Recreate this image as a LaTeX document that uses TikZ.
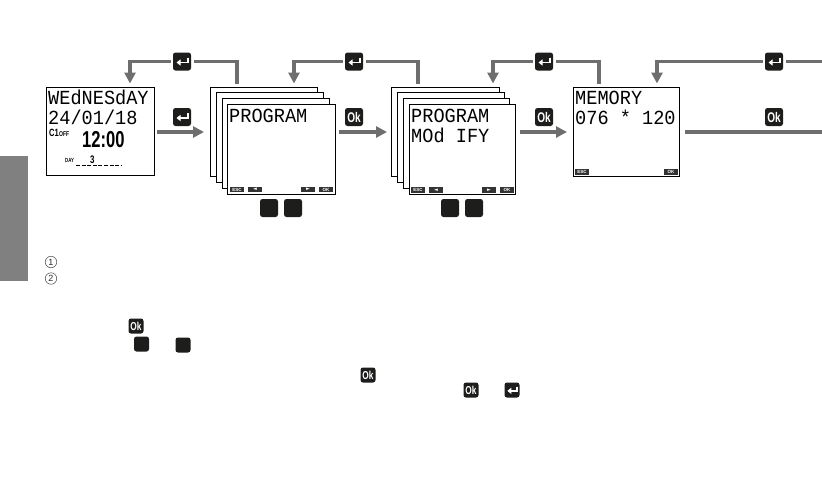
\documentclass[tikz,border=0pt]{standalone}
\usepackage{fontspec}
\usetikzlibrary{arrows.meta}
\setmainfont{Liberation Sans}
\newfontfamily\lcdfont[FakeStretch=0.93]{Liberation Mono}
\newfontfamily\narrowfont[FakeStretch=0.72]{Liberation Sans}
\newfontfamily\symfont{DejaVu Sans}
\definecolor{flowgray}{HTML}{6E6E6E}
\definecolor{tabgray}{HTML}{808080}
\definecolor{keyblack}{HTML}{1D1D1B}
\tikzset{
  flow/.style={draw=flowgray,line width=3.4pt},
  flowarrow/.style={flow,-{Triangle[width=11pt,length=11pt]}},
  keybtn/.style={fill=keyblack,rounded corners=2.5pt,minimum size=18pt,inner sep=0pt,outer sep=2.5pt,text=white,font=\narrowfont\bfseries\fontsize{14}{14}\selectfont},
  smallkey/.style={keybtn,minimum size=15pt,outer sep=0pt,font=\narrowfont\bfseries\fontsize{11.5}{11.5}\selectfont},
  screen/.style={draw=black,fill=white,line width=0.9pt,inner sep=0pt,anchor=north west},
  softkey/.style={fill=black!80,text=white,inner sep=0pt,minimum width=14pt,minimum height=5.5pt,font=\bfseries\fontsize{4.5}{4.5}\selectfont},
  lcd/.style={anchor=base west,inner sep=0pt,font=\lcdfont\fontsize{20}{20}\selectfont},
  numcircle/.style={draw=black!70,circle,line width=0.5pt,minimum size=11.5pt,inner sep=0pt,text=black!85,font=\fontsize{9}{9}\selectfont},
  plain/.style={inner sep=0pt,anchor=base west},
}
\newcommand{\enterglyph}[2]{%
  \begin{scope}[shift={(#1.center)},scale=#2]
    \draw[white,line width=1.5pt,-{Triangle[width=6pt,length=4pt]}] (6,-4) -- (6,1) -- (-5.5,1);
  \end{scope}}
\begin{document}
\begin{tikzpicture}[x=1pt,y=-1pt]
\useasboundingbox (0,0) rectangle (822,482);
% side tab
\fill[tabgray] (0,156) rectangle (28,281);
% screen 1
\node[screen,minimum width=108pt,minimum height=88pt,line width=1.1pt] (s1) at (46,87) {};
\node[lcd] (t1a) at (48,104) {WEdNESdAY};
\node[lcd] (t1b) at (48,124) {24/01/18};
\node[plain,font=\narrowfont\bfseries\fontsize{10.5}{10.5}\selectfont] (t1c) at (49,136) {C1};
\node[plain,font=\narrowfont\bfseries\fontsize{7}{7}\selectfont] (t1d) at (59,136) {OFF};
\node[plain,font=\narrowfont\bfseries\fontsize{23}{23}\selectfont] (t1e) at (82,147) {12:00};
\node[plain,font=\narrowfont\bfseries\fontsize{6}{6}\selectfont] (t1f) at (65,162) {DAY};
\node[plain,font=\narrowfont\bfseries\fontsize{11}{11}\selectfont] (t1g) at (90,163) {3};
\draw[black,line width=0.8pt,dash pattern=on 4pt off 1.6pt] (76,165) -- (121,165);
% stack 1
\node[screen,minimum width=107pt,minimum height=89pt] (a1) at (210,87) {};
\node[screen,minimum width=107pt,minimum height=90pt] (a2) at (216,92) {};
\node[screen,minimum width=107pt,minimum height=90pt] (a3) at (222,98) {};
\node[screen,minimum width=108pt,minimum height=90pt] (a4) at (227,104) {};
\node[lcd] (t2a) at (229,122) {PROGRAM};
\node[softkey] (k1) at (237,189.5) {ESC};
\node[softkey,font=\symfont\fontsize{5}{5}\selectfont] (k2) at (255,189.5) {◄};
\node[softkey,font=\symfont\fontsize{5}{5}\selectfont] (k3) at (308,189.5) {►};
\node[softkey] (k4) at (326,189.5) {OK};
% stack 2
\node[screen,minimum width=108pt,minimum height=89pt] (b1) at (391,87) {};
\node[screen,minimum width=107pt,minimum height=90pt] (b2) at (397,92) {};
\node[screen,minimum width=106pt,minimum height=90pt] (b3) at (403,98) {};
\node[screen,minimum width=106pt,minimum height=90pt] (b4) at (409,104) {};
\node[lcd] (t3a) at (411,122) {PROGRAM};
\node[lcd] (t3b) at (411,142) {MOd IFY};
\node[softkey] (k5) at (418,190) {ESC};
\node[softkey,font=\symfont\fontsize{5}{5}\selectfont] (k6) at (436,190) {◄};
\node[softkey,font=\symfont\fontsize{5}{5}\selectfont] (k7) at (489,190) {►};
\node[softkey] (k8) at (507,190) {OK};
% memory
\node[screen,minimum width=106pt,minimum height=89pt,line width=1.1pt] (m1) at (573,87) {};
\node[lcd] (t4a) at (575,104.5) {MEMORY};
\node[lcd] (t4b) at (575,124) {076 * 120};
\node[softkey] (k9) at (582,172) {ESC};
\node[softkey] (k10) at (671,172) {OK};
% top row buttons
\node[keybtn] (e1) at (182,61.5) {};
\node[keybtn] (e2) at (354,61.5) {};
\node[keybtn] (e3) at (544,61.5) {};
\node[keybtn] (e4) at (774,61.5) {};
\enterglyph{e1}{1}\enterglyph{e2}{1}\enterglyph{e3}{1}\enterglyph{e4}{1}
% middle row buttons
\node[keybtn] (e5) at (182,117) {};
\enterglyph{e5}{1}
\node[keybtn] (o1) at (354,117) {Ok};
\node[keybtn] (o2) at (544,117) {Ok};
\node[keybtn] (o3) at (774,117) {Ok};
% blank keys under the stacks
\node[keybtn] (q1) at (269,208) {};
\node[keybtn] (q2) at (293,208) {};
\node[keybtn] (q3) at (450,208) {};
\node[keybtn] (q4) at (474,208) {};
% free ends
\coordinate (r1) at (237,83.5); \coordinate (l1) at (130,83.5);
\coordinate (r2) at (418,83.5); \coordinate (l2) at (294,83.5);
\coordinate (r3) at (599,83.5); \coordinate (l3) at (493,83.5);
\coordinate (r4) at (822,61.5); \coordinate (l4) at (657,83.5);
\coordinate (f1) at (157,132); \coordinate (g1) at (204,132);
\coordinate (f2) at (339,132); \coordinate (g2) at (387,132);
\coordinate (f3) at (520,132); \coordinate (g3) at (567,132);
\coordinate (f4) at (685,132); \coordinate (g4) at (822,132);
% connectors
\draw[flow] (r1) |- (e1.east);
\draw[flowarrow] (e1.west) -| (l1);
\draw[flow] (r2) |- (e2.east);
\draw[flowarrow] (e2.west) -| (l2);
\draw[flow] (r3) |- (e3.east);
\draw[flowarrow] (e3.west) -| (l3);
\draw[flow] (r4) -- (e4.east);
\draw[flowarrow] (e4.west) -| (l4);
\draw[flowarrow] (f1) -- (g1);
\draw[flowarrow] (f2) -- (g2);
\draw[flowarrow] (f3) -- (g3);
\draw[flow] (f4) -- (g4);
% numbered marks
\node[numcircle] (n1) at (51,262) {1};
\node[numcircle] (n2) at (51,278.5) {2};
% inline keys
\node[smallkey] (i1) at (136,326) {Ok};
\node[smallkey] (i2) at (141.5,344) {};
\node[smallkey] (i3) at (183,345) {};
\node[smallkey] (i4) at (368,375) {Ok};
\node[smallkey] (i5) at (471,390) {Ok};
\node[smallkey] (i6) at (512,390) {};
\enterglyph{i6}{0.85}
\end{tikzpicture}
\end{document}
